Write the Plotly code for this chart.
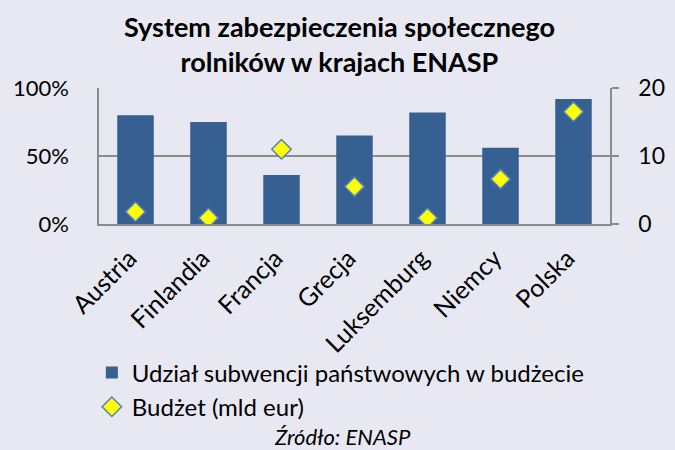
import plotly.graph_objects as go

countries = ["Austria", "Finlandia", "Francja", "Grecja", "Luksemburg", "Niemcy", "Polska"]
share = [0.80, 0.75, 0.36, 0.65, 0.82, 0.56, 0.92]
budget = [1.8, 0.9, 11.0, 5.5, 0.9, 6.6, 16.5]
left_tickvals = [0, 0.5, 1.0]
left_ticktext = ["0%", "50%", "100%"]
right_tickvals = [0, 10, 20]
title_text = "System zabezpieczenia społecznego<br>rolników w krajach ENASP"
source_text = "<i>Źródło: ENASP</i>"
bar_name = "Udział subwencji państwowych w budżecie"
marker_name = "Budżet (mld eur)"

FONT = "Lato"
BG = "#E8E8F2"
GRID = "#8C8C8C"

fig = go.Figure()
fig.add_bar(x=countries, y=share, name=bar_name,
            marker=dict(color="#376092", line=dict(width=0)))
fig.add_scatter(x=countries, y=budget, yaxis="y2", mode="markers", name=marker_name,
                marker=dict(symbol="diamond", size=15, color="#FFFF00",
                            line=dict(color="#4F81BD", width=1.5)))

fig.update_layout(
    width=675, height=450,
    paper_bgcolor=BG, plot_bgcolor=BG,
    margin=dict(l=99, r=65, t=88, b=226, autoexpand=False),
    font=dict(family=FONT, size=22, color="#000000"),
    bargap=0.5,
    showlegend=True,
    legend=dict(x=-0.014, y=-0.93, xanchor="left", yanchor="top",
                bgcolor="rgba(0,0,0,0)", font=dict(size=24, family=FONT),
                tracegroupgap=0, itemwidth=30),
    xaxis=dict(tickangle=-45, showline=True, linecolor=GRID, linewidth=1.5,
               ticks="", showgrid=False, tickfont=dict(size=25), automargin=False,
               ticklabelstandoff=8, ticklabelshift=-6),
    yaxis=dict(range=[0, 1.0], tickvals=left_tickvals, ticktext=left_ticktext,
               showgrid=True, gridcolor=GRID, gridwidth=1.5, showline=True,
               linecolor=GRID, linewidth=1.5, ticks="", zeroline=False,
               ticklabelstandoff=24, tickfont=dict(size=22), automargin=False),
    yaxis2=dict(range=[0, 20], tickvals=right_tickvals, overlaying="y", side="right",
                showgrid=False, showline=True, linecolor=GRID, linewidth=1.5,
                ticks="outside", ticklen=7, tickcolor=GRID, tickwidth=1.5,
                zeroline=False, ticklabelstandoff=15, tickfont=dict(size=23),
                automargin=False),
    annotations=[
        dict(text="<b>" + title_text + "</b>", x=0.4716, xref="paper", y=1.327, yref="paper",
             xanchor="center", yanchor="middle", showarrow=False,
             font=dict(size=27, family=FONT)),
        dict(text=source_text, x=0.4765, xref="paper", y=-1.566, yref="paper",
             xanchor="center", yanchor="middle", showarrow=False,
             font=dict(size=22, family=FONT)),
    ],
)

fig.write_html("out.html", config={"displayModeBar": False},
               post_script="document.body.style.margin='0';document.body.style.overflow='hidden';")
